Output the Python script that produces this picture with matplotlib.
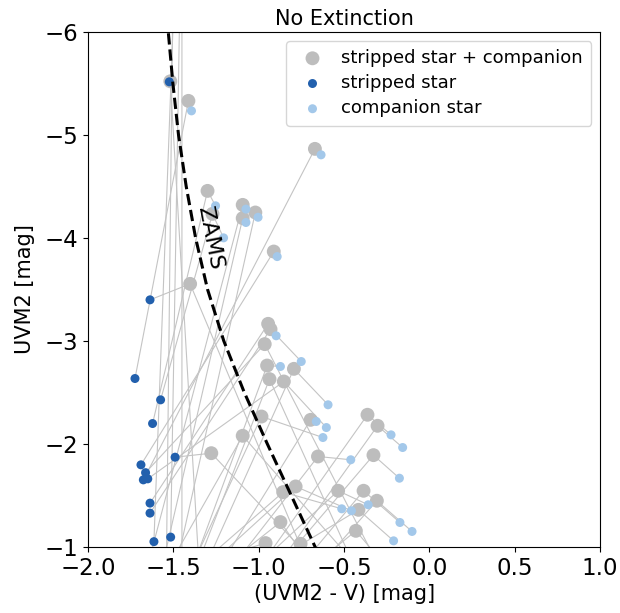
import matplotlib
matplotlib.use("Agg")
import matplotlib.pyplot as plt
import numpy as np

# stripped star, combined (stripped + companion), companion star per system
stripped_x = [-1.524, -1.725, -1.676, -1.622, -1.575, -1.78, -1.72, -1.66, -1.69, -1.637,
              -1.637, -1.637, -1.663, -1.70, -1.60, -1.65, -1.75, -1.62, -1.68, -1.60,
              -1.55, -1.63, -1.58, -1.66, -1.70, -1.64, -1.74, -1.57, -1.61, -1.67,
              -1.59, -1.73, -1.62, -1.56, -1.614, -1.516, -1.49, -1.55, -1.45]
stripped_y = [-5.515, -2.634, -1.65, -2.197, -2.427, 0.0, 0.3, 0.5, -1.796, -3.398,
              -1.424, -1.327, -1.72, 0.6, 0.2, -1.66, 0.8, 0.0, 0.4, -0.6,
              0.5, 0.9, 0.1, 0.7, -0.2, -0.4, 0.3, 0.8, 1.0, -0.1,
              -0.3, 0.6, -0.7, 0.2, -1.05, -1.094, -1.87, 0.5, 0.8]
combined_x = [-1.518, -1.412, -0.671, -1.300, -1.271, -1.094, -1.094, -1.020, -0.912, -1.402,
              -0.945, -0.931, -0.965, -0.951, -0.937, -0.853, -0.794, -0.984, -0.696, -1.094,
              -0.363, -0.304, -0.653, -0.328, -0.784, -0.857, -0.535, -0.386, -0.308, -0.416,
              -0.873, -0.431, -0.960, -0.755, -1.49, -1.46, -1.278, -1.50, -1.45]
combined_y = [-5.52, -5.33, -4.864, -4.456, -4.233, -4.320, -4.191, -4.246, -3.867, -3.553,
              -3.165, -3.113, -2.968, -2.760, -2.628, -2.605, -2.728, -2.265, -2.233, -2.078,
              -2.282, -2.175, -1.877, -1.890, -1.586, -1.531, -1.544, -1.544, -1.447, -1.359,
              -1.240, -1.155, -1.036, -1.029, -6.6, -6.5, -1.909, -6.8, -6.3]
companion_x = [-1.25, -1.394, -0.635, -1.253, -1.206, -1.075, -1.075, -1.004, -0.892, -0.5,
               -0.898, -0.751, -0.2, -0.873, -0.3, -0.604, -0.594, -0.624, -0.663, -0.1,
               -0.225, -0.157, -0.461, -0.176, -0.457, -0.514, -0.359, -0.173, -0.102, -0.210,
               -0.6, -0.25, -0.7, -0.45, -1.47, -1.44, -0.19, -1.48, -1.42]
companion_y = [2.0, -5.233, -4.806, -4.311, -4.00, -4.279, -4.149, -4.20, -3.818, 0.0,
               -3.049, -2.799, -0.5, -2.751, -0.3, -2.158, -2.379, -2.061, -2.217, -0.2,
               -2.087, -1.964, -1.845, -1.666, -1.35, -1.369, -1.408, -1.236, -1.149, -1.058,
               -0.6, -0.8, -0.7, -0.6, -6.5, -6.4, 0.0, -6.7, -6.2]

zams_y = [-6.3, -6.0, -5.5, -5.0, -4.5, -4.0, -3.5, -3.0, -2.5, -2.0, -1.5, -1.0, -0.7]
zams_x = [-1.545, -1.53, -1.503, -1.47, -1.425, -1.37, -1.30, -1.205, -1.085, -0.95, -0.81, -0.67, -0.586]

c_comb = '#bdbdbd'
c_strip = '#2260ad'
c_comp = '#a3c8ea'

fig = plt.figure(figsize=(6.2, 6.13), dpi=100)
ax = fig.add_axes([0.142, 0.108, 0.826, 0.840])

for i in range(len(stripped_x)):
    ax.plot([stripped_x[i], combined_x[i], companion_x[i]],
            [stripped_y[i], combined_y[i], companion_y[i]],
            color='#c4c4c4', lw=0.8, zorder=1)

ax.plot(zams_x, zams_y, 'k--', lw=2.2, zorder=5)
ax.text(-1.285, -4.0, 'ZAMS', rotation=-79, fontsize=16, ha='center', va='center', zorder=6)

ax.scatter(combined_x, combined_y, s=100, color=c_comb, zorder=2, label='stripped star + companion',
           edgecolors='none')
ax.scatter(stripped_x, stripped_y, s=42, color=c_strip, zorder=4, label='stripped star',
           edgecolors='none')
ax.scatter(companion_x, companion_y, s=42, color=c_comp, zorder=3, label='companion star',
           edgecolors='none')

ax.set_xlim(-2.0, 1.0)
ax.set_ylim(-1.0, -6.0)
ax.set_xticks([-2.0, -1.5, -1.0, -0.5, 0.0, 0.5, 1.0])
ax.set_yticks([-6, -5, -4, -3, -2, -1])
ax.tick_params(labelsize=16.5)
ax.set_xlabel('(UVM2 - V) [mag]', fontsize=15, labelpad=3)
ax.set_ylabel('UVM2 [mag]', fontsize=15, labelpad=7)
ax.set_title('No Extinction', fontsize=15, pad=5)
ax.legend(loc='upper right', fontsize=13, handletextpad=0.6, borderpad=0.45, labelspacing=0.4)

fig.savefig('out.png', dpi=100)
